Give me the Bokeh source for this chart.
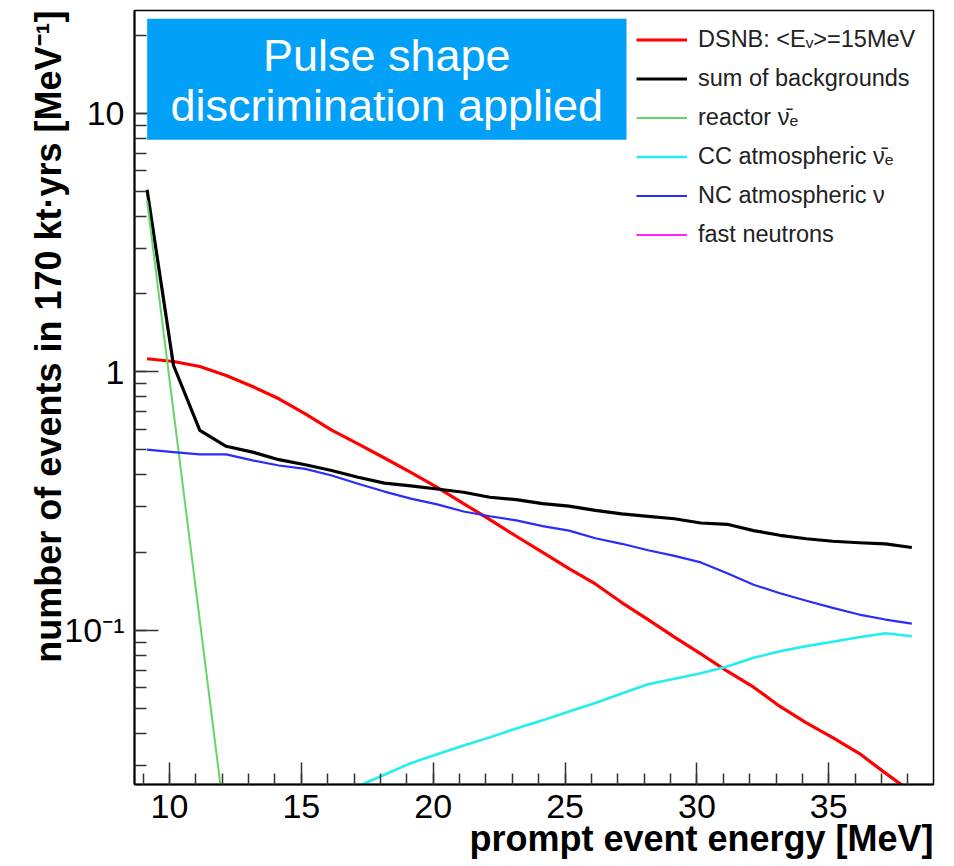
from bokeh.plotting import figure
from bokeh.models import (Range1d, SingleIntervalTicker, LogTicker, CustomJSTickFormatter,
                          Label, BoxAnnotation, Legend, LegendItem, Title)
from bokeh.embed import file_html
from bokeh.resources import INLINE

# prompt event energy of each bin [MeV]
energy = [9.15, 10.15, 11.15, 12.15, 13.15, 14.15, 15.15, 16.15, 17.15, 18.15,
          19.15, 20.15, 21.15, 22.15, 23.15, 24.15, 25.15, 26.15, 27.15, 28.15,
          29.15, 30.15, 31.15, 32.15, 33.15, 34.15, 35.15, 36.15, 37.15, 38.15]

# events per MeV in 170 kt*yrs
dsnb = [1.123, 1.096, 1.048, 0.968, 0.877, 0.786, 0.688, 0.595, 0.526, 0.464,
        0.408, 0.357, 0.309, 0.268, 0.231, 0.200, 0.173, 0.151, 0.128, 0.110,
        0.094, 0.081, 0.0694, 0.0602, 0.0507, 0.0438, 0.0384, 0.0334, 0.0280, 0.0236]
bkg_sum = [5.06, 1.06, 0.593, 0.515, 0.489, 0.457, 0.437, 0.415, 0.391, 0.371,
           0.362, 0.352, 0.342, 0.327, 0.320, 0.309, 0.302, 0.291, 0.282, 0.276,
           0.270, 0.260, 0.257, 0.243, 0.233, 0.226, 0.221, 0.218, 0.216, 0.209]
nc_atm = [0.500, 0.489, 0.479, 0.479, 0.454, 0.434, 0.421, 0.397, 0.369, 0.344,
          0.323, 0.307, 0.288, 0.276, 0.266, 0.253, 0.243, 0.227, 0.216, 0.204,
          0.194, 0.183, 0.166, 0.150, 0.139, 0.130, 0.122, 0.115, 0.110, 0.106]

reactor_energy = [9.15, 10.15, 11.15, 12.15]
reactor = [4.59, 0.706, 0.109, 0.0167]

cc_energy = [17.15, 18.15, 19.15, 20.15, 21.15, 22.15, 23.15, 24.15, 25.15, 26.15,
             27.15, 28.15, 29.15, 30.15, 31.15, 32.15, 33.15, 34.15, 35.15, 36.15,
             37.15, 38.15]
cc_atm = [0.0249, 0.0276, 0.0306, 0.0331, 0.0358, 0.0385, 0.0417, 0.0448, 0.0485, 0.0523,
          0.0569, 0.0618, 0.0649, 0.0682, 0.0724, 0.0782, 0.0829, 0.0868, 0.0902, 0.0940,
          0.0974, 0.0948]

# fast neutrons stay below the plotted range everywhere
fast_energy = [float("nan")]
fast_n = [float("nan")]

legend_labels = ["DSNB: <Eᵥ>=15MeV", "sum of backgrounds", "reactor ν̄ₑ",
                 "CC atmospheric ν̄ₑ", "NC atmospheric ν", "fast neutrons"]

FONT = "Liberation Sans"

p = figure(width=954, height=866, y_axis_type="log",
           x_range=Range1d(8.673, 38.972), y_range=Range1d(0.0253, 25.0),
           output_backend="svg", toolbar_location=None,
           min_border_left=134, min_border_right=21, min_border_top=10, min_border_bottom=82)
p.background_fill_color = "white"
p.border_fill_color = "white"
p.xgrid.visible = False
p.ygrid.visible = False
p.outline_line_color = "black"
p.outline_line_width = 1.5

# axes: ROOT-like ticks pointing into the frame
p.xaxis.ticker = SingleIntervalTicker(interval=5, num_minor_ticks=5)
p.yaxis.ticker = LogTicker(num_minor_ticks=10)
p.yaxis.formatter = CustomJSTickFormatter(code="""
    if (tick > 5) { return '10'; }
    if (tick > 0.5) { return '1'; }
    return '10\u207b\u00b9';
""")
for ax, major_len, minor_len, standoff in ((p.xaxis, 22, 11, 10), (p.yaxis, 24, 12, 10)):
    ax.major_tick_in = major_len
    ax.major_tick_out = 0
    ax.minor_tick_in = minor_len
    ax.minor_tick_out = 0
    ax.major_tick_line_color = "#333333"
    ax.minor_tick_line_color = "#333333"
    ax.major_tick_line_width = 1.5
    ax.minor_tick_line_width = 1.5
    ax.axis_line_color = "black"
    ax.axis_line_width = 2
    ax.major_label_text_font = FONT
    ax.major_label_text_font_size = "34px"
    ax.major_label_text_color = "black"
    ax.major_label_standoff = standoff

# axis titles, aligned to the far end of each axis
p.add_layout(Title(text="prompt event energy [MeV]", align="right", standoff=-10,
                   text_font=FONT, text_font_style="bold", text_font_size="36px",
                   text_color="black"), "below")
p.add_layout(Title(text="number of events in 170 kt·yrs [MeV⁻¹]", align="right", standoff=-14,
                   text_font=FONT, text_font_style="bold", text_font_size="36px",
                   text_color="black"), "left")

# curves
r_dsnb = p.line(energy, dsnb, line_color="#ff0000", line_width=3.2, line_join="round")
r_sum = p.line(energy, bkg_sum, line_color="black", line_width=3.2, line_join="round")
r_reac = p.line(reactor_energy, reactor, line_color="#66d466", line_width=2, line_join="round")
r_cc = p.line(cc_energy, cc_atm, line_color="#22eeee", line_width=2.6, line_join="round")
r_nc = p.line(energy, nc_atm, line_color="#2b2bff", line_width=2.2, line_join="round")
r_fast = p.line(fast_energy, fast_n, line_color="#ff22ff", line_width=2.2)

legend = Legend(items=[LegendItem(label=lab, renderers=[r])
                       for lab, r in zip(legend_labels, [r_dsnb, r_sum, r_reac, r_cc, r_nc, r_fast])],
                location=(494, 528), orientation="vertical",
                glyph_width=51, glyph_height=27, label_height=27, spacing=12,
                label_standoff=11, padding=8, margin=0,
                label_text_font=FONT, label_text_font_size="23.5px", label_text_color="#222222",
                border_line_alpha=0, background_fill_alpha=0)
p.add_layout(legend)

# caption box
p.add_layout(BoxAnnotation(left=9.154, right=27.33, bottom=7.903, top=23.22,
                           fill_color="#02a1f7", fill_alpha=1.0, line_alpha=0, level="overlay"))
for txt, ypos in (("Pulse shape", 16.74), ("discrimination applied", 10.72)):
    p.add_layout(Label(x=18.24, y=ypos, text=txt, text_align="center", text_baseline="alphabetic",
                       text_font=FONT, text_font_size="45px", text_color="white", level="overlay"))

open("out.html", "w").write(file_html(p, INLINE))
